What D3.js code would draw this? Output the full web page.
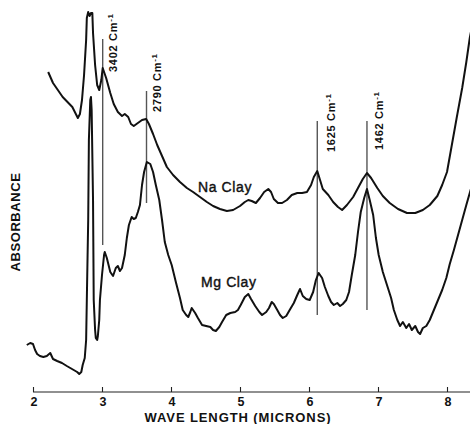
<!DOCTYPE html>
<html><head><meta charset="utf-8">
<script src="https://cdn.jsdelivr.net/npm/d3@7"></script>
<style>html,body{margin:0;padding:0;background:#fff;}svg{display:block;}</style>
</head><body>
<svg id="c" width="470" height="424"></svg>
<script>
// wavelength (microns), relative absorbance
const naClay = [[2.22,32.0],[2.29,30.9],[2.43,29.5],[2.57,28.5],[2.65,27.4],[2.68,27.8],[2.71,29.2],[2.74,31.7],[2.77,35.2],[2.78,37.4],[2.80,38.0],[2.82,37.6],[2.84,37.9],[2.86,37.9],[2.87,35.9],[2.90,32.7],[2.93,30.7],[2.96,30.2],[2.99,31.2],[3.01,32.4],[3.06,31.4],[3.12,29.9],[3.17,28.8],[3.23,28.0],[3.29,27.6],[3.33,27.8],[3.38,27.5],[3.42,26.8],[3.46,26.6],[3.52,26.9],[3.58,27.2],[3.64,27.3],[3.68,26.8],[3.74,25.8],[3.80,24.7],[3.87,23.6],[3.94,22.5],[4.03,21.7],[4.13,21.0],[4.23,20.4],[4.32,20.0],[4.42,19.5],[4.52,19.0],[4.61,18.6],[4.71,18.3],[4.81,18.1],[4.90,18.2],[5.00,18.6],[5.07,19.0],[5.12,19.2],[5.17,19.1],[5.23,18.9],[5.29,19.4],[5.35,20.0],[5.41,20.3],[5.45,20.0],[5.49,19.3],[5.55,18.9],[5.61,18.9],[5.68,19.2],[5.75,19.7],[5.83,19.9],[5.90,19.9],[5.97,20.0],[6.03,20.7],[6.07,21.5],[6.12,22.1],[6.16,21.2],[6.20,20.3],[6.28,19.7],[6.35,19.0],[6.42,18.5],[6.48,18.2],[6.55,18.7],[6.64,19.5],[6.71,20.4],[6.78,21.3],[6.84,21.9],[6.90,21.4],[6.99,20.4],[7.07,19.6],[7.17,18.9],[7.29,18.3],[7.42,17.9],[7.54,17.9],[7.65,18.2],[7.75,18.7],[7.86,19.6],[7.93,20.7],[8.00,22.0],[8.07,24.7],[8.14,27.4],[8.22,30.4],[8.28,33.0],[8.33,35.4],[8.38,37.2]];

const mgClay = [[1.91,4.7],[1.96,4.9],[2.00,4.8],[2.03,4.2],[2.06,3.8],[2.10,3.6],[2.15,3.5],[2.20,3.6],[2.25,3.9],[2.29,3.3],[2.35,3.1],[2.42,2.9],[2.49,2.6],[2.54,2.4],[2.59,2.2],[2.64,2.0],[2.67,1.8],[2.70,2.0],[2.72,2.7],[2.75,3.4],[2.77,5.2],[2.78,9.2],[2.80,17.2],[2.81,25.2],[2.83,29.2],[2.84,29.5],[2.85,28.2],[2.87,19.2],[2.88,9.2],[2.90,6.2],[2.91,5.4],[2.93,5.2],[2.94,5.6],[2.96,7.2],[2.97,9.2],[3.00,11.7],[3.03,13.7],[3.04,14.0],[3.07,13.4],[3.12,12.0],[3.16,11.6],[3.20,12.4],[3.23,12.6],[3.26,12.1],[3.29,12.4],[3.33,13.7],[3.36,15.4],[3.39,16.7],[3.43,17.5],[3.46,17.3],[3.49,17.4],[3.52,18.0],[3.55,18.7],[3.58,20.7],[3.61,22.0],[3.65,23.0],[3.70,22.8],[3.74,22.0],[3.78,20.7],[3.83,19.2],[3.87,17.2],[3.91,15.0],[3.96,13.7],[4.01,12.7],[4.07,11.0],[4.13,9.4],[4.17,8.2],[4.22,7.7],[4.25,7.5],[4.28,8.0],[4.30,8.4],[4.35,7.9],[4.39,7.4],[4.45,6.7],[4.51,6.6],[4.57,6.5],[4.61,6.2],[4.65,6.1],[4.70,6.5],[4.74,7.0],[4.80,7.7],[4.86,7.9],[4.93,8.0],[4.97,8.2],[5.01,8.7],[5.07,9.5],[5.12,9.8],[5.16,9.3],[5.22,8.6],[5.28,8.0],[5.32,7.7],[5.38,8.0],[5.42,8.4],[5.46,9.0],[5.49,8.8],[5.54,8.2],[5.58,7.7],[5.62,7.4],[5.67,7.6],[5.72,8.2],[5.78,8.9],[5.83,9.7],[5.87,10.3],[5.91,9.6],[5.96,9.3],[6.01,9.2],[6.06,10.0],[6.10,11.2],[6.14,11.9],[6.19,11.4],[6.23,10.5],[6.28,9.6],[6.32,9.0],[6.36,8.7],[6.41,8.9],[6.45,8.6],[6.49,8.8],[6.54,9.2],[6.58,10.0],[6.62,11.7],[6.67,13.7],[6.71,16.0],[6.75,18.0],[6.80,19.4],[6.84,20.3],[6.88,19.2],[6.93,17.7],[6.97,15.4],[7.01,13.7],[7.07,12.0],[7.13,10.7],[7.19,9.4],[7.23,8.2],[7.28,7.2],[7.32,6.6],[7.36,7.0],[7.41,6.4],[7.45,6.8],[7.49,6.2],[7.54,6.6],[7.58,6.0],[7.61,5.8],[7.65,6.4],[7.70,6.6],[7.75,7.2],[7.81,8.2],[7.87,9.2],[7.93,10.2],[7.99,11.4],[8.04,12.8],[8.10,14.2],[8.16,15.7],[8.22,17.2],[8.28,18.7],[8.35,20.4]];

// band markers: label, wavelength position, top and bottom absorbance of the line
const bandLabels = ["3402", "2790", "1625", "1462"];
const bandPos = [3.01, 3.645, 6.12, 6.84];
const bandTop = [35.3, 30.1, 27.1, 27.1];
const bandBottom = [14.7, 18.9, 7.7, 8.2];

const xTicks = [2, 3, 4, 5, 6, 7, 8];
const seriesNames = ["Na Clay", "Mg Clay"];

const svg = d3.select("#c");
const x = d3.scaleLinear().domain([2, 8]).range([33, 447]);
const y = d3.scaleLinear().domain([0, 39]).range([392, 2]);
const font = "'Liberation Sans', Arial, sans-serif";

// axis
const axis = d3.axisTop(x).tickValues(xTicks).tickSize(5).tickFormat("");
const ag = svg.append("g").attr("transform", "translate(0,392)").call(axis);
ag.select(".domain").attr("d", "M33,0H470").attr("stroke", "#222").attr("stroke-width", 1.1);
ag.selectAll(".tick line").attr("stroke", "#222").attr("stroke-width", 1.1);
svg.append("g").selectAll("text").data(xTicks).join("text")
  .attr("x", d => x(d) + 1).attr("y", 406)
  .attr("text-anchor", "middle")
  .attr("font-family", font).attr("font-weight", "bold").attr("font-size", 12.5)
  .attr("fill", "#111").text(d => d);

svg.append("text").attr("x", 238).attr("y", 422)
  .attr("text-anchor", "middle").attr("font-family", font).attr("font-weight", "bold")
  .attr("font-size", 13).attr("letter-spacing", 0.9).attr("fill", "#111")
  .text("WAVE LENGTH (MICRONS)");

svg.append("text").attr("transform", "translate(20,222) rotate(-90)")
  .attr("text-anchor", "middle").attr("font-family", font).attr("font-weight", "bold")
  .attr("font-size", 13).attr("letter-spacing", 0.6).attr("fill", "#111")
  .text("ABSORBANCE");

// band marker lines
const bands = bandLabels.map((l, i) => ({l, p: bandPos[i], t: bandTop[i], b: bandBottom[i]}));
svg.append("g").selectAll("line").data(bands).join("line")
  .attr("x1", d => x(d.p)).attr("x2", d => x(d.p))
  .attr("y1", d => y(d.t)).attr("y2", d => y(d.b))
  .attr("stroke", "#555").attr("stroke-width", 1.4);

// curves
const line = d3.line().x(d => x(d[0])).y(d => y(d[1]));
[naClay, mgClay].forEach(s => {
  svg.append("path").datum(s).attr("d", line)
    .attr("fill", "none").attr("stroke", "#111").attr("stroke-width", 2)
    .attr("stroke-linejoin", "round");
});

// band labels (rotated)
const labelOffset = [14, 14.5, 17.5, 16];
const labelStart = [32.0, 28.0, 24.0, 24.2];
bands.forEach((d, i) => {
  const t = svg.append("text")
    .attr("transform", `translate(${x(d.p) + labelOffset[i]},${y(labelStart[i])}) rotate(-90)`)
    .attr("font-family", font).attr("font-weight", "bold").attr("font-size", 11)
    .attr("letter-spacing", 0.7).attr("fill", "#111");
  t.append("tspan").text(d.l + " Cm");
  t.append("tspan").attr("dy", -4).attr("font-size", 8).text("-1");
});

// series labels
[[198, 192], [201, 287]].forEach((p, i) => {
  svg.append("text").attr("x", p[0]).attr("y", p[1])
    .attr("font-family", font).attr("font-size", 14)
    .attr("stroke", "#111").attr("stroke-width", 0.4)
    .attr("letter-spacing", 0.6).attr("fill", "#111").text(seriesNames[i]);
});
</script>
</body></html>
